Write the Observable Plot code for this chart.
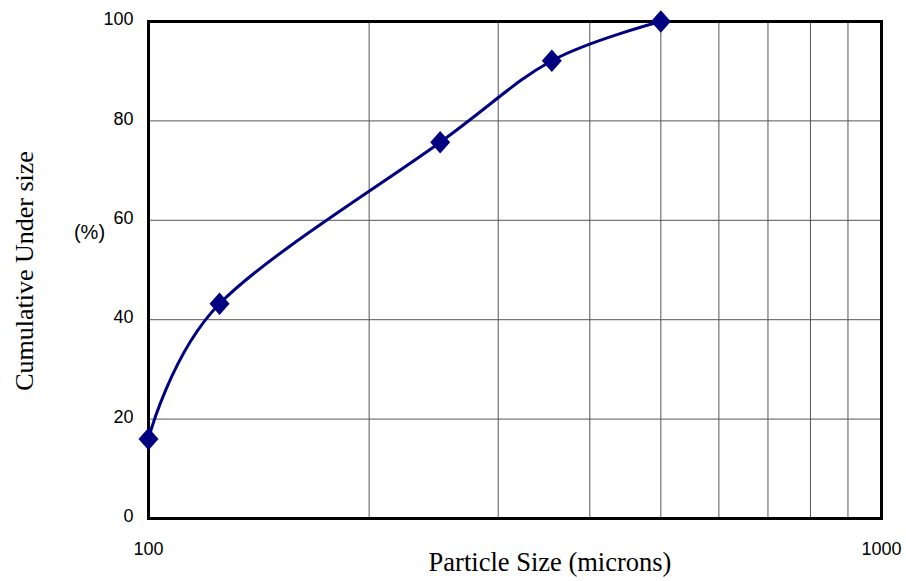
<!DOCTYPE html>
<html>
<head>
<meta charset="utf-8">
<script src="https://cdn.jsdelivr.net/npm/d3@7"></script>
<script src="https://cdn.jsdelivr.net/npm/@observablehq/plot@0.6"></script>
<style>
  html, body { margin: 0; padding: 0; background: white; }
</style>
</head>
<body>
<div id="chart"></div>
<script>
// Data
const sizes = [100, 125, 250, 355, 500];          // particle size (microns)
const underSize = [16, 43.2, 75.7, 92.1, 100];    // cumulative under size (%)
const xTickLabels = [100, 1000];
const xGridValues = [200, 300, 400, 500, 600, 700, 800, 900];
const yTickLabels = [0, 20, 40, 60, 80, 100];
const yGridValues = [20, 40, 60, 80];

const data = sizes.map((s, i) => ({size: s, pct: underSize[i]}));

const diamond = {
  draw(context, size) {
    const s = Math.sqrt(size / Math.PI);
    context.moveTo(0, -s * 1.12);
    context.lineTo(s, 0);
    context.lineTo(0, s * 1.12);
    context.lineTo(-s, 0);
    context.closePath();
  }
};

const navy = "#000080";
const serif = "'Liberation Serif', 'Times New Roman', serif";

const chart = Plot.plot({
  width: 906,
  height: 581,
  marginLeft: 148,
  marginRight: 25,
  marginTop: 21,
  marginBottom: 63,
  x: {type: "log", domain: [100, 1000]},
  y: {domain: [0, 100]},
  style: {fontFamily: "'Liberation Sans', Arial, sans-serif", fontSize: "18px", background: "white", color: "black"},
  marks: [
    Plot.ruleX(xGridValues, {stroke: "#555", strokeWidth: 1}),
    Plot.ruleY(yGridValues, {stroke: "#555", strokeWidth: 1}),
    Plot.frame({stroke: "black", strokeWidth: 3}),
    Plot.line(data, {x: "size", y: "pct", curve: "cardinal", tension: 0, stroke: navy, strokeWidth: 3}),
    Plot.dot(data, {x: "size", y: "pct", symbol: diamond, r: 10, fill: navy, stroke: "none"}),
    Plot.axisX({ticks: xTickLabels, tickSize: 0, tickPadding: 24, tickFormat: d => String(d), label: null, fontSize: 18}),
    Plot.axisY({ticks: yTickLabels, tickSize: 0, tickPadding: 15, tickFormat: d => String(d), label: null, dy: -2, fontSize: 18}),
    Plot.text(["Particle Size (microns)"], {frameAnchor: "bottom", dx: 35, dy: 44, fontFamily: serif, fontSize: 26.5, lineAnchor: "middle"}),
    Plot.text(["Cumulative Under size"], {frameAnchor: "left", rotate: -90, dx: -124, dy: 1, fontFamily: serif, fontSize: 26, textAnchor: "middle"}),
    Plot.text(["(%)"], {frameAnchor: "left", dx: -59, dy: -37, fontSize: 20, textAnchor: "middle"})
  ]
});

document.getElementById("chart").appendChild(chart);
</script>
</body>
</html>
